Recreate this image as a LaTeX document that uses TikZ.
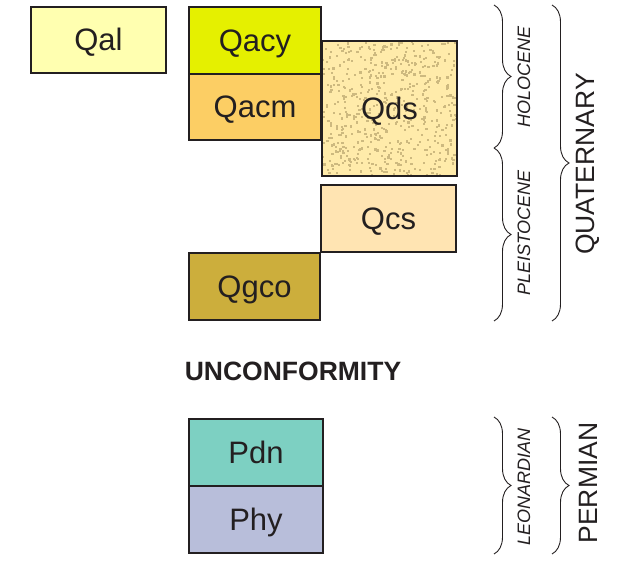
\documentclass[tikz,border=0pt]{standalone}
\usepackage{fontspec}
\setmainfont{Liberation Sans}
\usetikzlibrary{decorations.pathreplacing}
\definecolor{edge}{HTML}{231F20}
\definecolor{cQal}{HTML}{FFFFB0}
\definecolor{cQacy}{HTML}{E5F000}
\definecolor{cQacm}{HTML}{FCCE64}
\definecolor{cQds}{HTML}{FFEBAA}
\definecolor{cDot}{HTML}{CDB97F}
\definecolor{cQcs}{HTML}{FFE4B2}
\definecolor{cQgco}{HTML}{CCAE3C}
\definecolor{cPdn}{HTML}{7DD0C2}
\definecolor{cPhy}{HTML}{B8BEDA}
\tikzset{
  unitbox/.style={draw=edge, line width=2.6pt, rectangle, inner sep=0pt,
    font=\fontsize{31}{36}\selectfont, text=edge, text height=22pt, text depth=0pt},
  epoch/.style={rotate=90, font=\fontsize{18}{22}\selectfont\itshape, text=edge},
  period/.style={rotate=90, font=\fontsize{26.5}{30}\selectfont, text=edge},
  bracel/.style={draw=edge, line width=0.9pt, decorate,
    decoration={brace, amplitude=17pt}},
}
\begin{document}
\begin{tikzpicture}[x=1pt, y=-1pt]
\useasboundingbox (0,0) rectangle (621,577);
% Quaternary units
\node[unitbox, fill=cQal, minimum width=135pt, minimum height=66pt] (qal) at (98.5,40) {Qal};
\node[unitbox, fill=cQacy, minimum width=132pt, minimum height=67pt] (qacy) at (255,40.5) {Qacy};
\node[unitbox, fill=cQacm, minimum width=132pt, minimum height=66pt] (qacm) at (255,107) {Qacm};
\node[unitbox, fill=cQds, minimum width=135pt, minimum height=135pt,
  path picture={
    \pgfmathsetseed{7}
    \foreach \i in {1,...,600} {
      \pgfmathsetmacro\rx{rnd*140}
      \pgfmathsetmacro\ry{rnd*140}
      \fill[cDot] ([xshift=\rx pt, yshift=-\ry pt]path picture bounding box.north west) rectangle ++(2.2pt,-2.2pt);
    }
  }] (qds) at (389.5,108.5) {Qds};
\node[unitbox, fill=cQcs, minimum width=135pt, minimum height=67pt] (qcs) at (388.5,218.5) {Qcs};
\node[unitbox, fill=cQgco, minimum width=131pt, minimum height=67pt] (qgco) at (254.5,286.5) {Qgco};
% unconformity
\node[font=\fontsize{26.5}{30}\selectfont\bfseries, text=edge, text height=19pt, text depth=0pt, inner sep=0pt] (unc) at (293,371) {UNCONFORMITY};
% Permian units
\node[unitbox, fill=cPdn, minimum width=134pt, minimum height=67pt] (pdn) at (256,452.5) {Pdn};
\node[unitbox, fill=cPhy, minimum width=134pt, minimum height=67pt] (phy) at (256,519.5) {Phy};
% braces
\coordinate (b1t) at (494,5);
\coordinate (b1b) at (494,148);
\coordinate (b2b) at (494,321);
\coordinate (b3t) at (552,5);
\coordinate (b3b) at (552,321);
\coordinate (b4t) at (494,417);
\coordinate (b4b) at (494,554);
\coordinate (b5t) at (552,417);
\coordinate (b5b) at (552,554);
\draw[bracel] (b1t) -- (b1b);
\draw[bracel] (b1b) -- (b2b);
\draw[bracel] (b3t) -- (b3b);
\draw[bracel] (b4t) -- (b4b);
\draw[bracel] (b5t) -- (b5b);
% labels
\node[epoch] (holo) at (524,77) {HOLOCENE};
\node[epoch] (pleist) at (524,233) {PLEISTOCENE};
\node[period] (quat) at (588,164) {QUATERNARY};
\node[epoch] (leon) at (524,487) {LEONARDIAN};
\node[period] (perm) at (588,483) {PERMIAN};
\end{tikzpicture}
\end{document}
